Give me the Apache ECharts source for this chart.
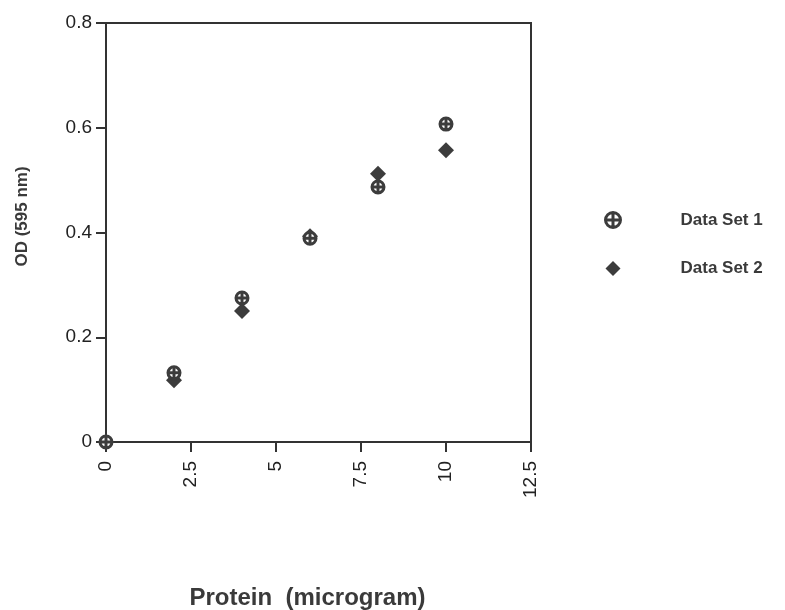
<!DOCTYPE html>
<html>
<head>
<meta charset="utf-8">
<script src="https://cdn.jsdelivr.net/npm/echarts@6/dist/echarts.min.js"></script>
<style>
  html, body { margin: 0; padding: 0; background: #fff; }
  #chart { width: 785px; height: 610px; }
</style>
</head>
<body>
<div id="chart"></div>
<script>
// values
const protein = [0, 2, 4, 6, 8, 10]
const set1 = [0, 0.132, 0.275, 0.389, 0.487, 0.607]
const set2 = [0, 0.118, 0.25, 0.393, 0.512, 0.557]
const seriesNames = ['Data Set 1', 'Data Set 2']

// circle with a plus inside, stroked, white inside
const crossCircle = 'path://M0 10 A10 10 0 1 1 20 10 A10 10 0 1 1 0 10 Z M10 0 L10 20 M0 10 L20 10'

const ink = '#3c3c3c'
const font = 'Liberation Sans, Arial, sans-serif'

function pairs(xs, ys) {
  return xs.map((x, i) => [x, ys[i]])
}

const chart = echarts.init(document.getElementById('chart'))
chart.setOption({
  backgroundColor: '#fff',
  animation: false,
  grid: {
    left: 106,
    right: 254,
    top: 23,
    bottom: 168,
    outerBoundsMode: 'none',
    show: true,
    borderColor: '#333',
    borderWidth: 2
  },
  legend: {
    orient: 'vertical',
    left: 599,
    top: 206,
    itemWidth: 15,
    itemHeight: 15,
    itemGap: 31,
    data: [
      { name: seriesNames[0], icon: crossCircle, itemStyle: { color: '#fff', borderColor: ink, borderWidth: 3 } },
      { name: seriesNames[1], icon: 'diamond', itemStyle: { color: ink, borderWidth: 0 } }
    ],
    textStyle: {
      color: '#3a3a3a',
      fontFamily: font,
      fontSize: 17,
      fontWeight: 'bold',
      padding: [0, 0, 0, 55]
    }
  },
  xAxis: {
    type: 'value',
    min: 0,
    max: 12.5,
    interval: 2.5,
    name: 'Protein  (microgram)',
    nameLocation: 'middle',
    nameGap: 144,
    nameTextStyle: {
      color: '#3a3a3a',
      fontFamily: font,
      fontSize: 24,
      fontWeight: 'bold',
      padding: [0, 22, 0, 0]
    },
    axisLine: { lineStyle: { color: '#333', width: 2 } },
    axisTick: { show: true, length: 10, lineStyle: { color: '#333', width: 2 } },
    axisLabel: { rotate: 90, margin: 19, color: '#222', fontFamily: font, fontSize: 19 },
    splitLine: { show: false }
  },
  yAxis: {
    type: 'value',
    min: 0,
    max: 0.8,
    interval: 0.2,
    name: 'OD (595 nm)',
    nameLocation: 'middle',
    nameGap: 75,
    nameTextStyle: {
      color: '#3a3a3a',
      fontFamily: font,
      fontSize: 17,
      fontWeight: 'bold',
      padding: [0, 0, 0, 32]
    },
    axisLine: { lineStyle: { color: '#333', width: 2 } },
    axisTick: { show: true, length: 10, lineStyle: { color: '#333', width: 2 } },
    axisLabel: { margin: 14, color: '#222', fontFamily: font, fontSize: 19 },
    splitLine: { show: false }
  },
  series: [
    {
      name: seriesNames[1],
      type: 'scatter',
      symbol: 'diamond',
      symbolSize: 16,
      itemStyle: { color: ink, opacity: 1 },
      data: pairs(protein, set2),
      z: 2
    },
    {
      name: seriesNames[0],
      type: 'scatter',
      symbol: crossCircle,
      symbolSize: 12,
      itemStyle: { color: '#fff', borderColor: ink, borderWidth: 3, opacity: 1 },
      data: pairs(protein, set1),
      z: 3
    }
  ]
})
</script>
</body>
</html>
